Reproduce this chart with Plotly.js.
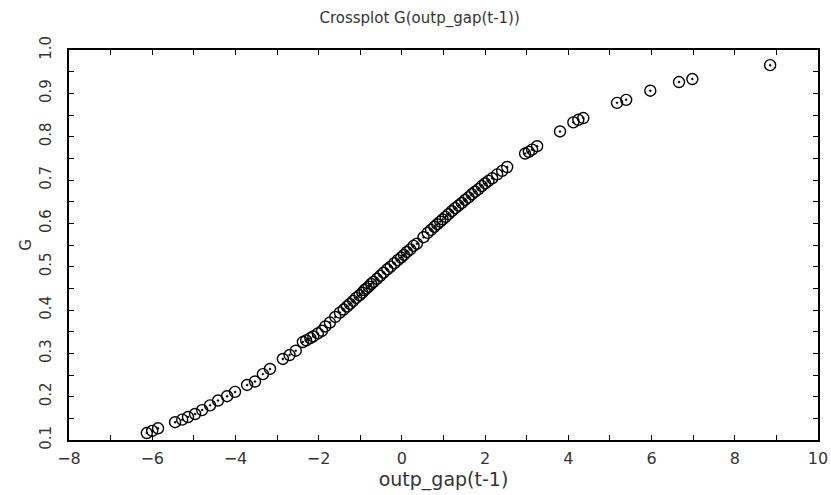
<!DOCTYPE html>
<html>
<head>
<meta charset="utf-8">
<script src="https://cdn.plot.ly/plotly-3.0.1.min.js"></script>
<style>html,body{margin:0;padding:0;background:#fff;}#chart{width:831px;height:495px;}</style>
</head>
<body>
<div id="chart"></div>
<script>
const titleText = "Crossplot G(outp_gap(t-1))";
const xTitle = "outp_gap(t-1)";
const yTitle = "G";

const outpGapLag = [-6.13,-6.0,-5.86,-5.45,-5.28,-5.14,-4.97,-4.80,-4.61,-4.42,-4.20,-4.01,-3.72,-3.53,-3.34,-3.17,-2.86,-2.70,-2.55,-2.38,-2.30,-2.20,-2.13,-2.02,-1.92,-1.84,-1.73,-1.60,-1.49,-1.40,-1.32,-1.25,-1.17,-1.10,-1.02,-0.95,-0.90,-0.85,-0.80,-0.74,-0.68,-0.60,-0.52,-0.44,-0.35,-0.27,-0.18,-0.10,-0.02,0.05,0.12,0.20,0.28,0.36,0.52,0.62,0.70,0.78,0.85,0.92,0.98,1.05,1.12,1.20,1.28,1.36,1.44,1.52,1.60,1.68,1.76,1.84,1.92,2.00,2.08,2.17,2.29,2.41,2.53,2.96,3.05,3.13,3.25,3.80,4.12,4.24,4.36,5.17,5.39,5.97,6.66,6.98,8.85];

const gValues = [0.116,0.121,0.127,0.141,0.147,0.153,0.160,0.169,0.180,0.191,0.201,0.211,0.227,0.235,0.252,0.264,0.287,0.296,0.306,0.326,0.330,0.335,0.339,0.346,0.352,0.362,0.371,0.384,0.394,0.401,0.408,0.414,0.421,0.428,0.434,0.440,0.446,0.450,0.454,0.460,0.465,0.472,0.479,0.486,0.494,0.500,0.508,0.515,0.521,0.527,0.534,0.540,0.548,0.553,0.568,0.578,0.585,0.592,0.598,0.604,0.609,0.615,0.621,0.628,0.635,0.641,0.647,0.654,0.660,0.667,0.673,0.679,0.686,0.692,0.698,0.704,0.713,0.721,0.730,0.761,0.765,0.770,0.778,0.812,0.833,0.839,0.843,0.878,0.885,0.906,0.926,0.933,0.965];

const xTickVals = [-8,-6,-4,-2,0,2,4,6,8,10];
const yTickVals = [0.1,0.2,0.3,0.4,0.5,0.6,0.7,0.8,0.9,1.0];

const fontFam = "DejaVu Sans, sans-serif";
const txtColor = "#333";

const trace = {
  x: outpGapLag,
  y: gValues,
  type: "scatter",
  mode: "markers",
  marker: {symbol: "circle-open-dot", size: 11, color: "#000", line: {width: 1.4, color: "#000"}},
  hoverinfo: "x+y"
};

const layout = {
  width: 831, height: 495,
  margin: {l: 69, r: 13, t: 50, b: 55},
  paper_bgcolor: "#fff", plot_bgcolor: "#fff",
  showlegend: false,
  title: {text: titleText, x: 0.505, xanchor: "center", y: 0.965, yanchor: "middle",
          font: {family: fontFam, size: 15, color: txtColor}},
  xaxis: {
    range: [-8, 10], tickvals: xTickVals, ticktext: xTickVals.map(v => v < 0 ? "\u2212" + Math.abs(v) : String(v)),
    showgrid: false, zeroline: false, showline: true, linecolor: "#000", linewidth: 2,
    mirror: "allticks", ticks: "inside", ticklen: 5, tickwidth: 1, tickcolor: "#000",
    minor: {dtick: 1, tick0: 0, ticks: "inside", ticklen: 5, tickwidth: 1, tickcolor: "#000", showgrid: false},
    tickfont: {family: fontFam, size: 16, color: txtColor},
    ticklabelstandoff: 3,
    title: {text: xTitle, font: {family: fontFam, size: 19, color: txtColor}, standoff: 4}
  },
  yaxis: {
    range: [0.1, 1.0], tickvals: yTickVals, ticktext: yTickVals.map(v => v.toFixed(1)),
    showgrid: false, zeroline: false, showline: true, linecolor: "#000", linewidth: 2,
    mirror: "allticks", ticks: "inside", ticklen: 5, tickwidth: 1, tickcolor: "#000",
    minor: {dtick: 0.05, tick0: 0, ticks: "inside", ticklen: 5, tickwidth: 1, tickcolor: "#000", showgrid: false},
    tickangle: -90,
    tickfont: {family: fontFam, size: 15, color: txtColor},
    ticklabelstandoff: 10,
    title: {text: yTitle, font: {family: fontFam, size: 15, color: txtColor}, standoff: 2}
  }
};

Plotly.newPlot("chart", [trace], layout, {displayModeBar: false, staticPlot: true});
</script>
</body>
</html>
